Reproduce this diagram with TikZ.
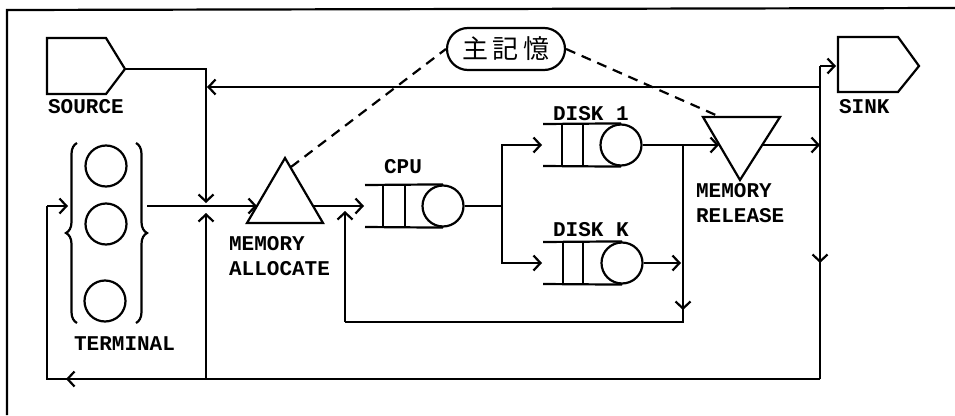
\documentclass[tikz,border=0pt]{standalone}
\usepackage{fontspec}
\setmonofont{Liberation Mono}
\newfontfamily\cjk{Noto Sans CJK JP}
\usetikzlibrary{arrows.meta,decorations.pathreplacing,shapes.misc}
\begin{document}
\begin{tikzpicture}[x=1pt,y=-1pt, line width=2.2pt,
  >={Straight Barb[length=7pt,width=15pt]},
  lbl/.style={font=\ttfamily\bfseries\fontsize{21}{24}\selectfont, inner sep=0pt, anchor=base west},
  srv/.style={circle,draw,minimum size=41pt,inner sep=0pt},
  memdash/.style={dash pattern=on 10pt off 7pt},
  bracestyle/.style={decorate, decoration={brace, amplitude=11pt}}]
\useasboundingbox (0,0) rectangle (955,415);
% frame
\draw (7,415) -- (7,10) -- (955,8);
% source and sink
\draw (47,38) -- (106,38) -- (125,69) -- (106,94) -- (47,94) -- cycle;
\coordinate (srcout) at (125,69);
\node[lbl] (srclbl) at (47,113) {SOURCE};
\draw (838,37) -- (898,37) -- (919,66) -- (898,92) -- (838,92) -- cycle;
\node[lbl] (sinklbl) at (838,113) {SINK};
% terminal
\node[srv] (t1) at (106,166) {};
\node[srv] (t2) at (106,224) {};
\node[srv] (t3) at (105,301) {};
\coordinate (lbB) at (77,323); \coordinate (lbT) at (77,143);
\coordinate (rbT) at (136,143); \coordinate (rbB) at (136,323);
\draw[bracestyle] (lbB) -- (lbT);
\draw[bracestyle] (rbT) -- (rbB);
\node[lbl] (termlbl) at (73,350) {TERMINAL};
% memory allocate
\coordinate (aL) at (247,223); \coordinate (aR) at (323,223); \coordinate (aT) at (285,158);
\draw (aL) -- (aR) -- (aT) -- cycle;
\node[lbl] (alloc1) at (228,250) {MEMORY};
\node[lbl] (alloc2) at (228,275) {ALLOCATE};
% memory release
\coordinate (rL) at (703,117); \coordinate (rR) at (780,117); \coordinate (rB) at (740,180);
\draw (rL) -- (rR) -- (rB) -- cycle;
\node[lbl] (rel1) at (695,197) {MEMORY};
\node[lbl] (rel2) at (695,222) {RELEASE};
% CPU queue
\node[srv] (cpuc) at (443,206) {};
\draw (365,185) -- (cpuc.north); \draw (365,227) -- (cpuc.south);
\draw (383,185) -- (383,227); \draw (405,185) -- (405,227);
\node[lbl] (cpulbl) at (383,173) {CPU};
% disk 1
\node[srv] (d1c) at (621,145) {};
\draw (543,124) -- (d1c.north); \draw (543,166) -- (d1c.south);
\draw (562,124) -- (562,166); \draw (583,124) -- (583,166);
\node[lbl] (d1lbl) at (552,120) {DISK 1};
% disk K
\node[srv] (dkc) at (622,263) {};
\draw (543,242) -- (dkc.north); \draw (543,284) -- (dkc.south);
\draw (563,242) -- (563,284); \draw (583,242) -- (583,284);
\node[lbl] (dklbl) at (552,236) {DISK K};
% main memory
\node[rounded rectangle, draw, minimum width=122pt, minimum height=42pt, inner sep=2pt] (mem) at (506,49) {\cjk\fontsize{26}{30}\selectfont 主\,記\,憶};
\coordinate (aDash) at (291,167);
\coordinate (rDash) at (718,116);
\draw[memdash] (aDash) -- (mem.west);
\draw[memdash] (mem.east) -- (rDash);
% coordinates for connectors
\coordinate (srcTip) at (206,203);
\coordinate (rv87) at (820,87); \coordinate (ret87) at (207,87);
\coordinate (rvTop) at (820,66); \coordinate (sinkIn) at (836,66);
\coordinate (rvMid) at (820,263); \coordinate (rvBot) at (820,379);
\coordinate (lBot) at (47,379); \coordinate (lMid) at (47,206);
\coordinate (termIn) at (68,206); \coordinate (botArr) at (66,379);
\coordinate (brJ) at (206,379); \coordinate (brTip) at (206,213);
\coordinate (termOut) at (147,206); \coordinate (allocIn) at (257,206);
\coordinate (allocOut) at (313,206); \coordinate (cpuIn) at (364,206);
\coordinate (split) at (502,206);
\coordinate (d1In) at (542,145); \coordinate (dkIn) at (542,263);
\coordinate (d1j) at (683,145); \coordinate (relIn) at (719,145);
\coordinate (relOut) at (763,145); \coordinate (rvRel) at (820,145);
\coordinate (dkOut) at (681,263);
\coordinate (fbR) at (683,322); \coordinate (fbL) at (345,322);
\coordinate (fbArr) at (683,310); \coordinate (cpuBack) at (345,211);
% connectors
\draw[->] (srcout) -| (srcTip);
\draw[->] (rv87) -- (ret87);
\draw[->] (rvTop) -- (sinkIn);
\draw (rvTop) -- (rvBot);
\draw[->] (rvTop) -- (rvMid);
\draw (rvBot) -- (lBot) -- (lMid);
\draw[->] (lMid) -- (termIn);
\draw[->] (rvBot) -- (botArr);
\draw[->] (brJ) -- (brTip);
\draw[->] (termOut) -- (allocIn);
\draw[->] (allocOut) -- (cpuIn);
\draw (cpuc.east) -- (split);
\draw[->] (split) |- (d1In);
\draw[->] (split) |- (dkIn);
\draw (d1c.east) -- (d1j);
\draw[->] (d1j) -- (relIn);
\draw[->] (relOut) -- (rvRel);
\draw[->] (dkc.east) -- (dkOut);
\draw (d1j) -- (fbR) -- (fbL);
\draw[->] (d1j) -- (fbArr);
\draw[->] (fbL) -- (cpuBack);
\end{tikzpicture}
\end{document}
